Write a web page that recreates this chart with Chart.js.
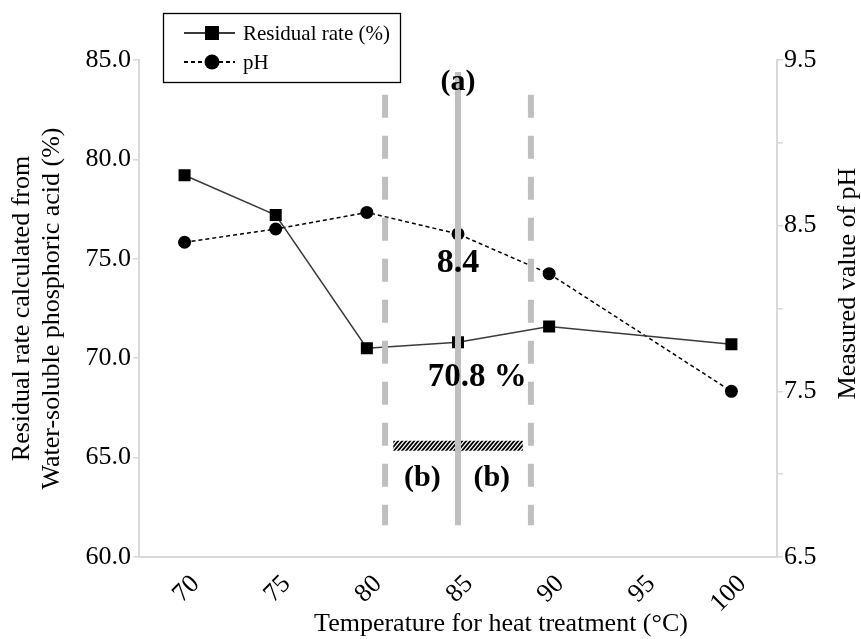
<!doctype html>
<html lang="en-US">
<head>
    <title>Residual rate and pH vs heat treatment</title>
    <meta charset="UTF-8" />
    <style>
        html, body { margin: 0; padding: 0; background: #fff; }
    </style>
</head>
<body>
<canvas id="myChart" width="861" height="639"></canvas>
<script src="https://cdn.jsdelivr.net/npm/chart.js"></script>

<script>
    // data
    const temps = ['70', '75', '80', '85', '90', '95', '100'];
    const residualRate = [79.2, 77.2, 70.5, 70.8, 71.6, null, 70.7];
    const phValues = [8.40, 8.48, 8.58, 8.45, 8.21, null, 7.50];
    const phLabels = [6.5, 7.5, 8.5, 9.5];

    // annotation marks, in axis units (x = category index, y = left axis)
    const guideLines = [
        { x: 2.2, from: 83.25, to: 61.6, dash: [23, 18] },
        { x: 3.8, from: 83.25, to: 61.6, dash: [23, 18] },
        { x: 3.0, from: 84.4, to: 61.6, dash: [] }
    ];
    const hatchBar = { from: 2.29, to: 3.71, y: 65.6 };
    const notes = [
        { text: '(a)', x: 3.0, y: 83.9, size: 30 },
        { text: '8.4', x: 3.0, y: 74.8, size: 34 },
        { text: '70.8 %', x: 3.21, y: 69.05, size: 33 },
        { text: '(b)', x: 2.61, y: 63.95, size: 30 },
        { text: '(b)', x: 3.37, y: 63.95, size: 30 }
    ];

    const serif = "'Times New Roman', 'Liberation Serif', serif";
    const axisGray = '#d9d9d9';

    const annotations = {
        id: 'annotations',
        afterDatasetsDraw(chart) {
            const c = chart.ctx, xs = chart.scales.x, ys = chart.scales.y;
            c.save();
            // hatched bar
            const bx0 = xs.getPixelForValue(hatchBar.from), bx1 = xs.getPixelForValue(hatchBar.to);
            const by = ys.getPixelForValue(hatchBar.y);
            c.save();
            c.beginPath();
            c.rect(bx0, by - 5, bx1 - bx0, 10);
            c.clip();
            c.strokeStyle = '#000';
            c.lineWidth = 1.8;
            for (let x = bx0 - 12; x < bx1 + 12; x += 4) {
                c.beginPath();
                c.moveTo(x, by + 6);
                c.lineTo(x + 10, by - 6);
                c.stroke();
            }
            c.restore();
            // grey guide lines
            c.strokeStyle = '#bfbfbf';
            c.lineWidth = 6;
            guideLines.forEach(g => {
                const px = xs.getPixelForValue(g.x);
                c.setLineDash(g.dash);
                c.beginPath();
                c.moveTo(px, ys.getPixelForValue(g.from));
                c.lineTo(px, ys.getPixelForValue(g.to));
                c.stroke();
            });
            c.setLineDash([]);
            // bold labels
            c.fillStyle = '#000';
            c.textAlign = 'center';
            c.textBaseline = 'middle';
            notes.forEach(n => {
                c.font = 'bold ' + n.size + 'px ' + serif;
                c.fillText(n.text, xs.getPixelForValue(n.x), ys.getPixelForValue(n.y));
            });
            c.restore();
        }
    };

    const extras = {
        id: 'extras',
        afterDraw(chart) {
            const c = chart.ctx, a = chart.chartArea;
            c.save();
            c.fillStyle = '#000';
            c.textAlign = 'center';
            c.textBaseline = 'middle';
            c.font = '26px ' + serif;
            // x title
            c.fillText('Temperature for heat treatment (°C)', (a.left + a.right) / 2 + 43, 624);
            // right title, reading bottom to top
            c.save();
            c.translate(848, (a.top + a.bottom) / 2 - 25);
            c.rotate(-Math.PI / 2);
            c.fillText('Measured value of pH', 0, 0);
            c.restore();
            // legend box
            c.strokeStyle = '#000';
            c.lineWidth = 1.3;
            c.strokeRect(163.5, 13.5, 237, 69);
            c.font = '21px ' + serif;
            c.textAlign = 'left';
            chart.data.datasets.forEach((ds, i) => {
                const y = 33 + i * 29;
                c.strokeStyle = ds.borderColor;
                c.lineWidth = 1.8;
                c.setLineDash(ds.borderDash || []);
                c.beginPath();
                c.moveTo(184, y);
                c.lineTo(235, y);
                c.stroke();
                c.setLineDash([]);
                c.fillStyle = '#000';
                c.beginPath();
                if (ds.pointStyle === 'rect') {
                    c.rect(205, y - 7, 14, 14);
                } else {
                    c.arc(212, y, 7.5, 0, Math.PI * 2);
                }
                c.fill();
                c.fillText(ds.label, 243, y + 1);
            });
            c.restore();
        }
    };

    const ctx = document.getElementById('myChart');
    const chart = new Chart(ctx, {
        type: 'line',
        data: {
            labels: temps,
            datasets: [{
                label: 'Residual rate (%)',
                data: residualRate,
                yAxisID: 'y',
                borderColor: '#3a3a3a',
                borderWidth: 1.5,
                pointStyle: 'rect',
                pointRadius: 8.5,
                pointBackgroundColor: '#000',
                pointBorderColor: '#000',
                pointBorderWidth: 0,
                spanGaps: true,
                tension: 0
            }, {
                label: 'pH',
                data: phValues,
                yAxisID: 'y1',
                borderColor: '#000',
                borderWidth: 1.5,
                borderDash: [4, 3],
                pointStyle: 'circle',
                pointRadius: 6.5,
                pointBackgroundColor: '#000',
                pointBorderColor: '#000',
                pointBorderWidth: 0,
                spanGaps: true,
                tension: 0
            }]
        },
        options: {
            responsive: false,
            animation: false,
            layout: { padding: { top: 60, left: 0, right: 0, bottom: 0 } },
            plugins: { legend: { display: false }, tooltip: { enabled: false } },
            scales: {
                x: {
                    offset: true,
                    grid: { display: false },
                    border: { display: true, color: axisGray, width: 2 },
                    ticks: {
                        color: '#000',
                        font: { family: serif, size: 26 },
                        minRotation: 45,
                        maxRotation: 45,
                        labelOffset: 11,
                        padding: 4
                    },
                    afterFit(s) { s.height = 82; }
                },
                y: {
                    position: 'left',
                    min: 60,
                    max: 85,
                    grid: { drawOnChartArea: false, color: axisGray, tickLength: 6, lineWidth: 1.5 },
                    border: { display: true, color: axisGray, width: 2 },
                    ticks: {
                        stepSize: 5,
                        color: '#000',
                        padding: 2,
                        font: { family: serif, size: 26 },
                        callback: v => v.toFixed(1)
                    },
                    title: {
                        display: true,
                        text: ['Residual rate calculated from', 'Water-soluble phosphoric acid (%)'],
                        color: '#000',
                        font: { family: serif, size: 26, lineHeight: 1.15 },
                        padding: { top: 7, bottom: 0 }
                    },
                    afterFit(s) { s.width = 139; }
                },
                y1: {
                    position: 'right',
                    min: 6.5,
                    max: 9.5,
                    grid: { drawOnChartArea: false, color: axisGray, tickLength: 6, lineWidth: 1.5 },
                    border: { display: true, color: axisGray, width: 2 },
                    ticks: {
                        stepSize: 0.5,
                        color: '#000',
                        padding: 1,
                        font: { family: serif, size: 26 },
                        callback: v => phLabels.includes(v) ? v.toFixed(1) : ''
                    },
                    afterFit(s) { s.width = 84; }
                }
            }
        },
        plugins: [annotations, extras]
    });
</script>
</body>
</html>
